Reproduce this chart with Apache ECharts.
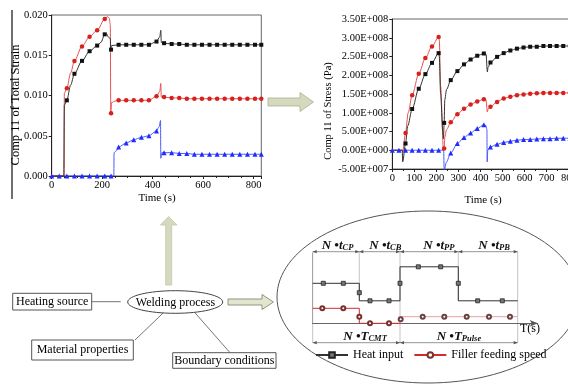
<!DOCTYPE html>
<html>
<head>
<meta charset="utf-8">
<script src="https://cdn.jsdelivr.net/npm/echarts@6/dist/echarts.min.js"></script>
<style>
html, body { margin: 0; padding: 0; background: #fff; }
#chart { width: 568px; height: 385px; }
</style>
</head>
<body>
<div id="chart"></div>
<script>
// [time (s), value, 1 = point drawn with a marker]
const strainBlack = [
  [0,0,0],[48,0,0],[50,0.0088,0],[60,0.0094,1],[75,0.0113,0],[90,0.0127,1],[120,0.0143,1],[150,0.0155,1],
  [180,0.0162,1],[195,0.0166,0],[210,0.0176,1],[216,0.0177,0],[226,0.0172,0],[232,0.0171,0],[234,0.0157,0],
  [235,0.0157,1],[237,0.0162,0],[265,0.0163,1],[295,0.0163,1],[325,0.0163,1],[355,0.0163,1],[385,0.0163,1],
  [415,0.0167,1],[428,0.0173,0],[432,0.0181,0],[434,0.0166,0],[445,0.0165,1],[475,0.0164,1],[505,0.0164,1],
  [535,0.0163,1],[565,0.0163,1],[595,0.0163,1],[625,0.0163,1],[655,0.0163,1],[685,0.0163,1],[715,0.0163,1],
  [745,0.0163,1],[775,0.0163,1],[805,0.0163,1],[830,0.0163,1]
]
const strainRed = [
  [0,0,0],[49,0,0],[50,0.0103,0],[60,0.0109,1],[75,0.0128,0],[90,0.0143,1],[120,0.0161,1],[150,0.0173,1],
  [180,0.0181,1],[210,0.0195,1],[220,0.0198,0],[228,0.0196,0],[232,0.0188,0],[234,0.0078,0],[235,0.0078,1],
  [237,0.0091,0],[250,0.0093,0],[265,0.0094,1],[295,0.0094,1],[325,0.0094,1],[355,0.0094,1],[385,0.0094,1],
  [415,0.0099,1],[428,0.0105,0],[432,0.0115,0],[434,0.0098,0],[445,0.0098,1],[475,0.0097,1],[505,0.0097,1],
  [535,0.0096,1],[565,0.0096,1],[595,0.0096,1],[625,0.0096,1],[655,0.0096,1],[685,0.0096,1],[715,0.0096,1],
  [745,0.0096,1],[775,0.0096,1],[805,0.0096,1],[830,0.0096,1]
]
const strainBlue = [
  [0,0,1],[30,0,1],[60,0,1],[90,0,1],[120,0,1],[150,0,1],[180,0,1],[210,0,1],[235,0,1],[246,0,0],
  [247,0.0029,0],[255,0.0031,0],[265,0.0036,1],[295,0.0041,1],[325,0.0045,1],[355,0.0048,1],[385,0.0050,1],
  [415,0.0056,1],[425,0.0061,0],[431,0.0069,0],[432,0.0022,0],[436,0.0029,0],[445,0.0029,1],[475,0.0029,1],
  [505,0.0028,1],[535,0.0028,1],[565,0.0027,1],[595,0.0027,1],[625,0.0027,1],[655,0.0027,1],[685,0.0027,1],
  [715,0.0027,1],[745,0.0027,1],[775,0.0027,1],[805,0.0027,1],[830,0.0027,1]
]

const stressBlack = [
  [0,0,0],[45,0,0],[47,-3.1e7,0],[60,1.8e7,1],[70,6.5e7,0],[90,1.10e8,1],[120,1.64e8,1],[150,2.03e8,1],
  [180,2.33e8,1],[210,2.59e8,1],[213,2.5e8,0],[219,1.5e8,0],[229,5e7,0],[232,3.1e7,0],[235,7.3e7,1],
  [238,1.35e8,0],[246,1.62e8,0],[265,1.87e8,1],[295,2.11e8,1],[325,2.29e8,1],[355,2.42e8,1],[385,2.52e8,1],
  [415,2.58e8,1],[425,2.56e8,0],[431,2.09e8,0],[434,2.21e8,0],[445,2.34e8,1],[475,2.49e8,1],[505,2.59e8,1],
  [535,2.66e8,1],[565,2.71e8,1],[595,2.74e8,1],[625,2.76e8,1],[655,2.76e8,1],[685,2.78e8,1],[715,2.78e8,1],
  [745,2.78e8,1],[775,2.78e8,1],[805,2.78e8,1],[840,2.78e8,0]
]
const stressRed = [
  [0,0,0],[45,0,0],[47,-5e6,0],[60,4.6e7,1],[72,1.0e8,0],[90,1.47e8,1],[120,2.04e8,1],[150,2.46e8,1],
  [180,2.77e8,1],[210,3.02e8,1],[213,2.95e8,0],[219,1.7e8,0],[232,0,0],[235,5e6,1],[238,3.5e7,0],
  [246,5.5e7,0],[265,7.5e7,1],[295,9.6e7,1],[325,1.11e8,1],[355,1.22e8,1],[385,1.30e8,1],[415,1.36e8,1],
  [425,1.34e8,0],[431,1.02e8,0],[434,1.10e8,0],[445,1.16e8,1],[475,1.29e8,1],[505,1.38e8,1],[535,1.43e8,1],
  [565,1.47e8,1],[595,1.49e8,1],[625,1.51e8,1],[655,1.52e8,1],[685,1.53e8,1],[715,1.53e8,1],[745,1.53e8,1],
  [775,1.53e8,1],[805,1.53e8,1],[840,1.53e8,0]
]
const stressBlue = [
  [0,0,1],[30,0,1],[60,0,1],[90,0,1],[120,0,1],[150,0,1],[180,0,1],[210,0,1],[233,0,0],[235,-5.5e7,1],
  [245,-3.2e7,0],[265,-7e6,1],[295,1.8e7,1],[325,3.4e7,1],[355,4.6e7,1],[385,5.8e7,1],[415,6.8e7,1],
  [424,6.6e7,0],[429,5.6e7,0],[430,-3.1e7,0],[433,1e6,0],[445,8.9e6,1],[475,1.6e7,1],[505,2.05e7,1],
  [535,2.4e7,1],[565,2.67e7,1],[595,2.84e7,1],[625,2.9e7,1],[655,3.0e7,1],[685,3.1e7,1],[715,3.1e7,1],
  [745,3.2e7,1],[775,3.2e7,1],[805,3.2e7,1],[840,3.2e7,0]
]

// schematic pulse train (arbitrary units)
const stepEdges = [0, 4.66, 8.73, 14.56, 20.5]
const heatInput = [
  [0,4,0],[1.06,4,1],[3.06,4,1],[4.66,4,0],[4.66,3.06,1],[4.66,2.25,0],[5.73,2.25,1],[7.63,2.25,1],
  [8.73,2.25,0],[8.73,4,1],[8.73,5.65,0],[10.56,5.65,1],[12.8,5.65,1],[14.56,5.65,0],[14.56,4,1],
  [14.56,2.25,0],[16.5,2.25,1],[18.96,2.25,1],[20.5,2.25,0]
]
const fillerCMT = [
  [0,1.5,0],[0.96,1.5,1],[3.06,1.5,1],[4.66,1.5,0],[4.66,0.66,1],[4.66,0,0],[5.73,0,1],[7.63,0,1],[8.73,0,0]
]
const fillerPulse = [
  [8.73,0,0],[8.8,0.4,1],[8.73,0.66,0],[11.0,0.66,1],[13.16,0.66,1],[15.4,0.66,1],[17.63,0.66,1],
  [19.73,0.66,1],[20.5,0.66,0]
]

const SERIF = '"Liberation Serif", "DejaVu Serif", serif'

function pts(arr) {
  return arr.map(p => p[2] ? [p[0], p[1]] : { value: [p[0], p[1]], symbol: 'none' })
}

function sciLabel(v) {
  if (v === 0) return '0.00E+000'
  const e = Math.floor(Math.log10(Math.abs(v)) + 1e-9)
  const m = v / Math.pow(10, e)
  return m.toFixed(2) + 'E+' + String(e).padStart(3, '0')
}

function lineSeries(name, data, xi, color, lineColor, symbol, size, smooth) {
  return {
    name: name,
    type: 'line',
    xAxisIndex: xi,
    yAxisIndex: xi,
    data: pts(data),
    symbol: symbol,
    symbolSize: size,
    showAllSymbol: true,
    smooth: smooth,
    smoothMonotone: 'x',
    itemStyle: { color: color },
    lineStyle: { color: lineColor, width: 1, type: 'solid' },
    emphasis: { disabled: true },
    animation: false
  }
}

function valueAxis(grid, opts) {
  return Object.assign({
    type: 'value',
    gridIndex: grid,
    splitLine: { show: false },
    axisLine: { show: true, onZero: false, lineStyle: { color: '#222', width: 1 } },
    axisTick: { show: true, inside: false, length: 3, lineStyle: { color: '#222' } },
    axisLabel: { color: '#000', fontFamily: SERIF, fontSize: 10.5, margin: 4 }
  }, opts)
}

// step chart helpers: 10 px per unit
const SX0 = 312.7, SY0 = 323.3
const sx = t => SX0 + t * 10

function dimLine(x1, x2, y) {
  return [
    { type: 'line', shape: { x1: x1, y1: y, x2: x2, y2: y }, style: { stroke: '#777', lineWidth: 0.8 } },
    { type: 'polygon', shape: { points: [[x1, y], [x1 + 4, y - 1.6], [x1 + 4, y + 1.6]] }, style: { fill: '#555' } },
    { type: 'polygon', shape: { points: [[x2, y], [x2 - 4, y - 1.6], [x2 - 4, y + 1.6]] }, style: { fill: '#555' } }
  ]
}

function dimLabel(x, y, main, sub) {
  return {
    type: 'text', x: x, y: y,
    style: {
      text: '{a|' + main + '}{b|' + sub + '}',
      verticalAlign: 'middle',
      rich: {
        a: { fontFamily: SERIF, fontSize: 13, fontWeight: 'bold', fontStyle: 'italic', fill: '#111', lineHeight: 15, verticalAlign: 'bottom' },
        b: { fontFamily: SERIF, fontSize: 8.5, fontWeight: 'bold', fontStyle: 'italic', fill: '#111', lineHeight: 9, verticalAlign: 'bottom' }
      }
    }
  }
}

function txt(x, y, s, size, extra) {
  return Object.assign({
    type: 'text', x: x, y: y,
    style: { text: s, fontFamily: SERIF, fontSize: size, fill: '#000', align: 'center', verticalAlign: 'middle' }
  }, extra || {})
}

function box(x, y, w, h) {
  return { type: 'rect', shape: { x: x, y: y, width: w, height: h }, style: { fill: '#fff', stroke: '#555', lineWidth: 1 } }
}

const ARROW_FILL = '#d5dabe'
const ARROW_EDGE = '#a9ae90'

let graphics = [
  // frame line on the left of the first panel
  { type: 'line', shape: { x1: 12, y1: 10, x2: 12, y2: 199 }, style: { stroke: '#222', lineWidth: 1.3 } },
  txt(16, 105, 'Comp 11 of Total Strain', 12.5, { rotation: Math.PI / 2 }),
  txt(328, 111, 'Comp 11 of Stress (Pa)', 10.5, { rotation: Math.PI / 2 }),
  txt(157, 198, 'Time (s)', 11),
  txt(483, 200, 'Time (s)', 11),
  // arrow between the two charts
  { type: 'polygon', shape: { points: [[268, 98], [300, 98], [300, 92.5], [313.5, 102], [300, 111.5], [300, 106], [268, 106]] },
    style: { fill: ARROW_FILL, stroke: ARROW_EDGE, lineWidth: 0.8 } },
  // arrow up from the welding process
  { type: 'polygon', shape: { points: [[165.7, 285], [165.7, 225], [160.5, 225], [168.7, 216.5], [177, 225], [171.7, 225], [171.7, 285]] },
    style: { fill: ARROW_FILL, stroke: '#c3c8aa', lineWidth: 0.8 } },
  // arrow to the ellipse
  { type: 'polygon', shape: { points: [[228, 299], [262, 299], [262, 294.5], [273.5, 302], [262, 309.5], [262, 305], [228, 305]] },
    style: { fill: '#e2e6cf', stroke: '#868b70', lineWidth: 0.9 } },
  // connectors
  { type: 'line', shape: { x1: 91.7, y1: 301.7, x2: 120.7, y2: 301.7 }, style: { stroke: '#666', lineWidth: 0.9 } },
  { type: 'line', shape: { x1: 163.3, y1: 312.8, x2: 135, y2: 340 }, style: { stroke: '#666', lineWidth: 0.9 } },
  { type: 'line', shape: { x1: 195, y1: 312.8, x2: 230, y2: 352.7 }, style: { stroke: '#666', lineWidth: 0.9 } },
  box(12.7, 293.3, 79, 16.7),
  txt(52.2, 301.8, 'Heating source', 12),
  { type: 'ellipse', shape: { cx: 175.2, cy: 302, rx: 47.5, ry: 11.3 }, style: { fill: '#fff', stroke: '#444', lineWidth: 1 } },
  txt(175.5, 302.5, 'Welding process', 12),
  box(31.7, 340, 101.6, 20),
  txt(82.5, 350.3, 'Material properties', 12),
  box(172.7, 352.7, 103.3, 15.6),
  txt(224.3, 360.7, 'Boundary conditions', 12),
  // big ellipse round the pulse schematic
  { type: 'ellipse', shape: { cx: 428, cy: 297, rx: 151, ry: 86 }, style: { fill: 'none', stroke: '#555', lineWidth: 1 }, z: -1 },
  txt(530, 328.7, 'T(s)', 12)
]

// separators and dimension lines of the schematic
const sepBottom = [342.7, 300.7, 342.7, 300.7, 342.7]
stepEdges.forEach((t, i) => {
  graphics.push({ type: 'line', shape: { x1: sx(t), y1: 251.7, x2: sx(t), y2: sepBottom[i] },
    style: { stroke: '#aaa', lineWidth: 0.7 }, z: -1 })
})
for (let i = 0; i < 4; i++) graphics = graphics.concat(dimLine(sx(stepEdges[i]), sx(stepEdges[i + 1]), 251.7))
graphics = graphics.concat(dimLine(sx(stepEdges[0]), sx(stepEdges[2]), 342.7))
graphics = graphics.concat(dimLine(sx(stepEdges[2]), sx(stepEdges[4]), 342.7))
graphics.push(
  dimLabel(321.7, 244.5, 'N •t', 'CP'),
  dimLabel(369.3, 244.5, 'N •t', 'CB'),
  dimLabel(423.3, 244.5, 'N •t', 'PP'),
  dimLabel(478.3, 244.5, 'N •t', 'PB'),
  dimLabel(343.3, 335.5, 'N •T', 'CMT'),
  dimLabel(436.7, 335.5, 'N •T', 'Pulse')
)

const chart = echarts.init(document.getElementById('chart'), null, { renderer: 'canvas' })

const option = {
  animation: false,
  backgroundColor: '#fff',
  grid: [
    { left: 51.7, top: 15, width: 209.6, height: 161, show: true, borderColor: '#666', borderWidth: 1, outerBoundsMode: 'none' },
    { left: 392.3, top: 19, width: 185.3, height: 150, show: true, borderColor: '#666', borderWidth: 1, outerBoundsMode: 'none' },
    { left: SX0, top: 253.3, width: 225, height: 70, outerBoundsMode: 'none' }
  ],
  xAxis: [
    valueAxis(0, { min: 0, max: 830, interval: 200, minorTick: { show: true, splitNumber: 4, length: 2, lineStyle: { color: '#222' } },
      axisLabel: { color: '#000', fontFamily: SERIF, fontSize: 10.5, margin: 4, showMaxLabel: false } }),
    valueAxis(1, { min: 0, max: 840, interval: 100, minorTick: { show: true, splitNumber: 2, length: 2, lineStyle: { color: '#222' } },
      axisLabel: { color: '#000', fontFamily: SERIF, fontSize: 10.5, margin: 4, showMaxLabel: false } }),
    { type: 'value', gridIndex: 2, min: 0, max: 22.5, splitLine: { show: false }, axisTick: { show: false }, axisLabel: { show: false },
      axisLine: { show: true, symbol: ['none', 'arrow'], symbolSize: [5, 8], lineStyle: { color: '#555', width: 0.9 } } }
  ],
  yAxis: [
    valueAxis(0, { min: 0, max: 0.02, interval: 0.005,
      axisLabel: { color: '#000', fontFamily: SERIF, fontSize: 10.5, margin: 4, formatter: v => v.toFixed(3) } }),
    valueAxis(1, { min: -5e7, max: 3.5e8, interval: 5e7,
      axisLabel: { color: '#000', fontFamily: SERIF, fontSize: 10.5, margin: 4, formatter: sciLabel } }),
    { type: 'value', gridIndex: 2, min: 0, max: 7, splitLine: { show: false }, axisTick: { show: false }, axisLabel: { show: false },
      axisLine: { show: true, lineStyle: { color: '#999', width: 0.8 } } }
  ],
  legend: {
    data: ['Heat input', 'Filler feeding speed'],
    left: 315, top: 349, padding: 0, itemWidth: 32, itemHeight: 7, itemGap: 10,
    textStyle: { color: '#000', fontFamily: SERIF, fontSize: 12 },
    selectedMode: false
  },
  series: [
    lineSeries('blueStrain', strainBlue, 0, '#1f2cff', '#4a58ff', 'triangle', 5, 0.3),
    lineSeries('redStrain', strainRed, 0, '#d8201c', '#e45252', 'circle', 4.5, 0.3),
    lineSeries('blackStrain', strainBlack, 0, '#111', '#333', 'rect', 4, 0.3),
    lineSeries('blueStress', stressBlue, 1, '#1f2cff', '#4a58ff', 'triangle', 5, 0.3),
    lineSeries('redStress', stressRed, 1, '#d8201c', '#e45252', 'circle', 4.5, 0.3),
    lineSeries('blackStress', stressBlack, 1, '#111', '#333', 'rect', 4, 0.3),
    Object.assign(lineSeries('Heat input', heatInput, 2, '#666', '#333', 'rect', 4, false),
      { itemStyle: { color: '#777', borderColor: '#222', borderWidth: 0.8 } }),
    lineSeries('fillerPulse', fillerPulse, 2, '#6a4040', '#e8a0a0', 'emptyCircle', 4, false),
    lineSeries('Filler feeding speed', fillerCMT, 2, '#7a3030', '#d42a2a', 'emptyCircle', 4, false)
  ],
  graphic: graphics
}

chart.setOption(option)
window.addEventListener('resize', function() {
  chart.resize()
})
</script>
</body>
</html>
